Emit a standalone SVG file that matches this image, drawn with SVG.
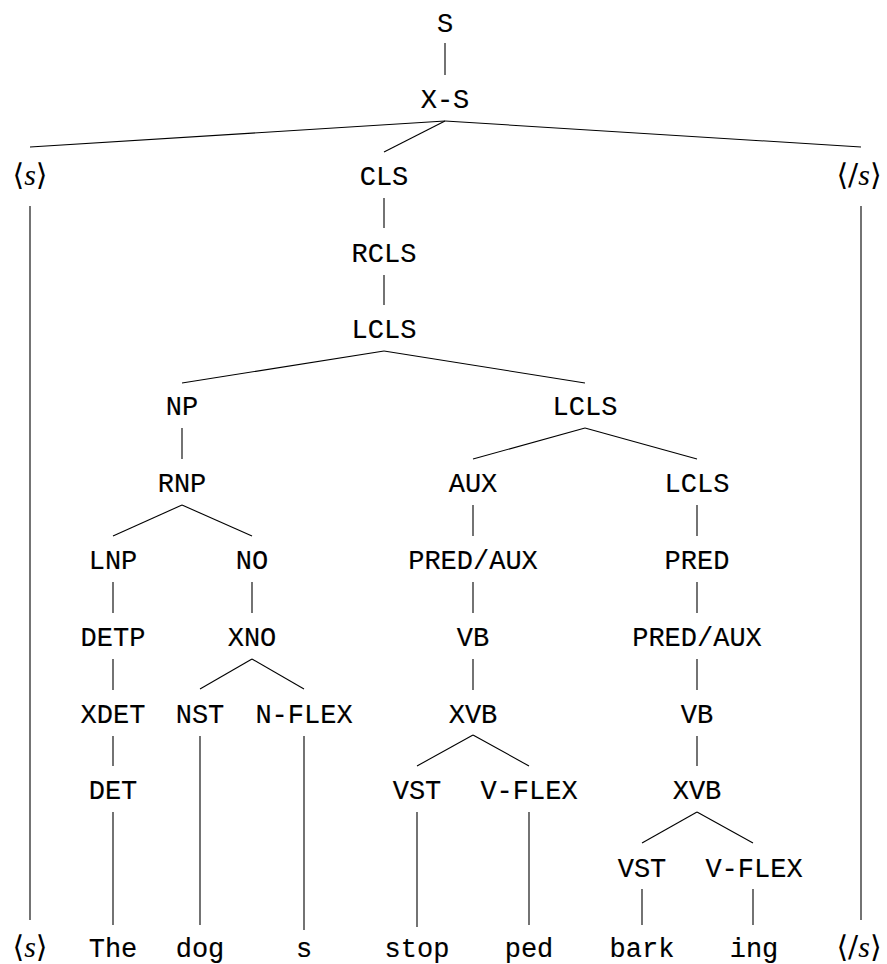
<svg xmlns="http://www.w3.org/2000/svg" width="887" height="964" viewBox="0 0 887 964">
<style>
.t{font-family:"Liberation Mono","DejaVu Sans Mono",monospace;font-size:27px;text-anchor:middle;fill:#000;stroke:#000;stroke-width:0.15}
.m{font-family:"DejaVu Serif","Liberation Serif",serif;font-size:30px;text-anchor:middle;fill:#000}
.i{font-family:"Liberation Serif","DejaVu Serif",serif;font-style:italic;font-size:30px}
.c line{stroke:#000;stroke-width:1.1;fill:none}
</style>
<rect width="887" height="964" fill="#fff"/>
<g class="c" id="connectors">
<line x1="445" y1="43" x2="445" y2="75"/>
<line x1="445" y1="121" x2="30" y2="147"/>
<line x1="445" y1="121" x2="384" y2="152"/>
<line x1="445" y1="121" x2="861" y2="147"/>
<line x1="384" y1="198" x2="384" y2="228"/>
<line x1="384" y1="275" x2="384" y2="305"/>
<line x1="384" y1="351" x2="182" y2="383"/>
<line x1="384" y1="351" x2="585" y2="383"/>
<line x1="182" y1="428" x2="182" y2="459"/>
<line x1="585" y1="428" x2="473" y2="459"/>
<line x1="585" y1="428" x2="697" y2="459"/>
<line x1="182" y1="505" x2="113" y2="536"/>
<line x1="182" y1="505" x2="252" y2="536"/>
<line x1="473" y1="505" x2="473" y2="536"/>
<line x1="697" y1="505" x2="697" y2="536"/>
<line x1="113" y1="582" x2="113" y2="613"/>
<line x1="252" y1="582" x2="252" y2="613"/>
<line x1="473" y1="582" x2="473" y2="613"/>
<line x1="697" y1="582" x2="697" y2="613"/>
<line x1="113" y1="659" x2="113" y2="690"/>
<line x1="252" y1="659" x2="200" y2="689"/>
<line x1="252" y1="659" x2="304" y2="689"/>
<line x1="473" y1="659" x2="473" y2="690"/>
<line x1="697" y1="659" x2="697" y2="690"/>
<line x1="113" y1="736" x2="113" y2="766"/>
<line x1="200" y1="736" x2="200" y2="925"/>
<line x1="304" y1="736" x2="304" y2="930"/>
<line x1="473" y1="735" x2="417" y2="766"/>
<line x1="473" y1="735" x2="529" y2="766"/>
<line x1="697" y1="736" x2="697" y2="766"/>
<line x1="113" y1="812" x2="113" y2="925"/>
<line x1="417" y1="812" x2="417" y2="927"/>
<line x1="529" y1="812" x2="529" y2="925"/>
<line x1="697" y1="812" x2="642" y2="843"/>
<line x1="697" y1="812" x2="753" y2="843"/>
<line x1="642" y1="889" x2="642" y2="925"/>
<line x1="753" y1="889" x2="753" y2="925"/>
<line x1="30" y1="206" x2="30" y2="920"/>
<line x1="861" y1="206" x2="861" y2="920"/>
</g>
<g id="n-S"><text class="t" x="445" y="32">S</text></g>
<g id="n-XS"><text class="t" x="445" y="108">X-S</text></g>
<g id="n-bos"><text class="m" x="30" y="185">⟨<tspan class="i">s</tspan>⟩</text></g>
<g id="n-CLS"><text class="t" x="384" y="185">CLS</text></g>
<g id="n-eos"><text class="m" x="859" y="185">⟨/<tspan class="i">s</tspan>⟩</text></g>
<g id="n-RCLS"><text class="t" x="384" y="262">RCLS</text></g>
<g id="n-LCLS1"><text class="t" x="384" y="338">LCLS</text></g>
<g id="n-NP"><text class="t" x="182" y="415">NP</text></g>
<g id="n-LCLS2"><text class="t" x="585" y="415">LCLS</text></g>
<g id="n-RNP"><text class="t" x="182" y="492">RNP</text></g>
<g id="n-AUX"><text class="t" x="473" y="492">AUX</text></g>
<g id="n-LCLS3"><text class="t" x="697" y="492">LCLS</text></g>
<g id="n-LNP"><text class="t" x="113" y="569">LNP</text></g>
<g id="n-NO"><text class="t" x="252" y="569">NO</text></g>
<g id="n-PREDAUX1"><text class="t" x="473" y="569">PRED/AUX</text></g>
<g id="n-PRED"><text class="t" x="697" y="569">PRED</text></g>
<g id="n-DETP"><text class="t" x="113" y="646">DETP</text></g>
<g id="n-XNO"><text class="t" x="252" y="646">XNO</text></g>
<g id="n-VB1"><text class="t" x="473" y="646">VB</text></g>
<g id="n-PREDAUX2"><text class="t" x="697" y="646">PRED/AUX</text></g>
<g id="n-XDET"><text class="t" x="113" y="723">XDET</text></g>
<g id="n-NST"><text class="t" x="200" y="723">NST</text></g>
<g id="n-NFLEX"><text class="t" x="304" y="723">N-FLEX</text></g>
<g id="n-XVB1"><text class="t" x="473" y="723">XVB</text></g>
<g id="n-VB2"><text class="t" x="697" y="723">VB</text></g>
<g id="n-DET"><text class="t" x="113" y="799">DET</text></g>
<g id="n-VST1"><text class="t" x="417" y="799">VST</text></g>
<g id="n-VFLEX1"><text class="t" x="529" y="799">V-FLEX</text></g>
<g id="n-XVB2"><text class="t" x="697" y="799">XVB</text></g>
<g id="n-VST2"><text class="t" x="642" y="877">VST</text></g>
<g id="n-VFLEX2"><text class="t" x="754" y="877">V-FLEX</text></g>
<g id="l-bos"><text class="m" x="30" y="957">⟨<tspan class="i">s</tspan>⟩</text></g>
<g id="l-The"><text class="t" x="113" y="957">The</text></g>
<g id="l-dog"><text class="t" x="200" y="957">dog</text></g>
<g id="l-s"><text class="t" x="304" y="957">s</text></g>
<g id="l-stop"><text class="t" x="417" y="957">stop</text></g>
<g id="l-ped"><text class="t" x="529" y="957">ped</text></g>
<g id="l-bark"><text class="t" x="642" y="957">bark</text></g>
<g id="l-ing"><text class="t" x="754" y="957">ing</text></g>
<g id="l-eos"><text class="m" x="859" y="957">⟨/<tspan class="i">s</tspan>⟩</text></g>
</svg>
